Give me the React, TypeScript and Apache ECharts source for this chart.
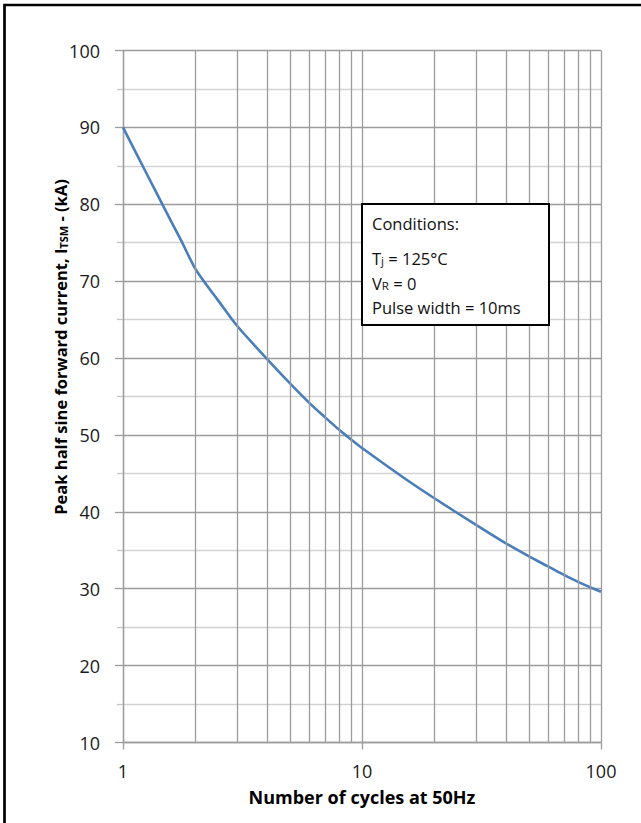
import React, { useEffect, useRef } from "react";
import * as echarts from "echarts";

const cycles = [1, 1.25, 1.5, 1.75, 2, 2.25, 2.5, 3, 4, 5, 6, 7, 8, 9, 10, 15, 20, 30, 40, 50, 60, 70, 80, 90, 100];
const currentKA = [90, 84.1, 79.3, 75.3, 71.7, 69.4, 67.5, 64.2, 59.9, 56.7, 54.2, 52.3, 50.7, 49.4, 48.3, 44.4, 41.8, 38.3, 35.9, 34.2, 32.9, 31.8, 30.9, 30.2, 29.6];
const minorXLines = [2, 3, 4, 5, 6, 7, 8, 9, 20, 30, 40, 50, 60, 70, 80, 90];
const conditionLines = ["Conditions:", "T{s|j} = 125°C", "V{s|R} = 0", "Pulse width = 10ms"];

const FONT = "'Open Sans', 'Noto Sans', sans-serif";

export default function App() {
  const ref = useRef<HTMLDivElement>(null);
  useEffect(() => {
    if (!ref.current) return;
    const chart = echarts.init(ref.current, null, { renderer: "svg" });
    const lineYs = [223, 258, 283, 307];
    chart.setOption({
      animation: false,
      backgroundColor: "#fff",
      textStyle: { fontFamily: FONT },
      grid: { left: 123, right: 40, top: 50.5, bottom: 80.5 },
      xAxis: {
        type: "log",
        logBase: 10,
        min: 1,
        max: 100,
        name: "Number of cycles at 50Hz",
        nameLocation: "middle",
        nameGap: 45,
        nameTextStyle: { fontFamily: FONT, fontSize: 18, fontWeight: "bold", color: "#000" },
        axisLine: { show: true, lineStyle: { color: "#9c9c9c", width: 1.3 } },
        axisTick: { show: true, length: 7, lineStyle: { color: "#9c9c9c", width: 1.3 } },
        axisLabel: { fontFamily: FONT, fontSize: 18, color: "#1a1a1a", margin: 19 },
        splitLine: { show: true, lineStyle: { color: "#9c9c9c", width: 1.3 } },
        minorTick: { show: false },
      },
      yAxis: {
        type: "value",
        min: 10,
        max: 100,
        interval: 10,
        axisLine: { show: true, lineStyle: { color: "#9c9c9c", width: 1.3 } },
        axisTick: { show: true, length: 8, lineStyle: { color: "#9c9c9c", width: 1.3 } },
        minorTick: { show: true, splitNumber: 2, length: 6, lineStyle: { color: "#c4c4c4", width: 1.3 } },
        minorSplitLine: { show: true, lineStyle: { color: "#d2d2d2", width: 1.3 } },
        axisLabel: { fontFamily: FONT, fontSize: 18, color: "#1a1a1a", margin: 23 },
        splitLine: { show: true, lineStyle: { color: "#9c9c9c", width: 1.3 } },
      },
      series: [
        {
          type: "line",
          data: [],
          z: 1,
          silent: true,
          markLine: {
            silent: true,
            symbol: "none",
            label: { show: false },
            lineStyle: { color: "#9c9c9c", width: 1.3, type: "solid" },
            emphasis: { disabled: true },
            data: minorXLines.map((v) => ({ xAxis: v })),
          },
        },
        {
          type: "line",
          z: 3,
          data: cycles.map((c, i) => [c, currentKA[i]]),
          showSymbol: false,
          smooth: 0.3,
          lineStyle: { color: "#4a7ebb", width: 2.6 },
        },
      ],
      graphic: [
        {
          type: "rect",
          z: 100,
          shape: { x: 4.5, y: 5, width: 700, height: 900 },
          style: { fill: "none", stroke: "#000", lineWidth: 2.7 },
        },
        {
          type: "text",
          z: 100,
          x: 60,
          y: 347,
          rotation: Math.PI / 2,
          style: {
            text: "Peak half sine forward current, I{s|TSM} - (kA)",
            fontFamily: FONT,
            fontSize: 16.5,
            fontWeight: "bold",
            fill: "#000",
            align: "center",
            verticalAlign: "middle",
            rich: { s: { fontFamily: FONT, fontSize: 11, fontWeight: "bold", fill: "#000", verticalAlign: "bottom" } },
          },
        },
        {
          type: "rect",
          z: 100,
          shape: { x: 362, y: 204, width: 187, height: 121 },
          style: { fill: "#fff", stroke: "#000", lineWidth: 2 },
        },
        ...conditionLines.map((t, i) => ({
          type: "text",
          z: 101,
          x: 372,
          y: lineYs[i],
          style: {
            text: t,
            fontFamily: FONT,
            fontSize: 16.5,
            fill: "#111",
            align: "left",
            verticalAlign: "middle",
            rich: { s: { fontFamily: FONT, fontSize: 11.5, fill: "#111", verticalAlign: "bottom" } },
          },
        })),
      ],
    });
    return () => chart.dispose();
  }, []);
  return <div ref={ref} style={{ position: "absolute", left: 0, top: 0, width: 641, height: 823 }} />;
}
